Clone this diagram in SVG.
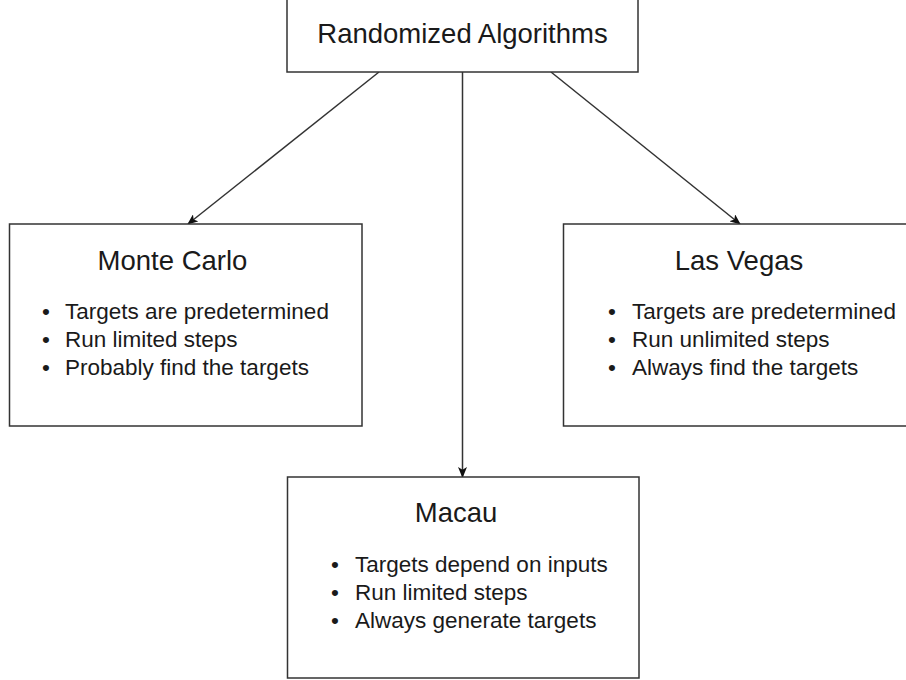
<svg xmlns="http://www.w3.org/2000/svg" width="906" height="680" viewBox="0 0 906 680">
<style>
.box{fill:#fff;stroke:#333;stroke-width:1.5}
.title{font-family:"Liberation Sans",Arial,sans-serif;font-size:27.5px;fill:#1a1a1a}
.item{font-family:"Liberation Sans",Arial,sans-serif;font-size:22.5px;fill:#1a1a1a}
.edge{stroke:#333;stroke-width:1.5;fill:none;marker-end:url(#arr)}
</style>
<defs>
<marker id="arr" viewBox="0 0 12 10" refX="11" refY="5" markerWidth="11" markerHeight="9" orient="auto" markerUnits="userSpaceOnUse">
<path d="M0,0 L12,5 L0,10 L3,5 Z" fill="#111"/>
</marker>
</defs>
<rect width="906" height="680" fill="#fff"/>
<g id="connectors">
<line class="edge" x1="379" y1="72" x2="188" y2="224"/>
<line class="edge" x1="551" y1="72" x2="740" y2="224"/>
<line class="edge" x1="462.5" y1="72" x2="462.5" y2="477"/>
</g>
<g id="randomized">
<rect class="box" x="287" y="-2" width="351" height="74"/>
<text class="title" x="462.5" y="43" text-anchor="middle">Randomized Algorithms</text>
</g>
<g id="montecarlo">
<rect class="box" x="9.5" y="224" width="352.5" height="202"/>
<text class="title" x="172.5" y="270" text-anchor="middle">Monte Carlo</text>
<text class="item" x="42" y="319">•</text><text class="item" x="65" y="319">Targets are predetermined</text>
<text class="item" x="42" y="347">•</text><text class="item" x="65" y="347">Run limited steps</text>
<text class="item" x="42" y="375">•</text><text class="item" x="65" y="375">Probably find the targets</text>
</g>
<g id="lasvegas">
<rect class="box" x="563.5" y="224" width="352" height="202"/>
<text class="title" x="739" y="270" text-anchor="middle">Las Vegas</text>
<text class="item" x="608" y="319">•</text><text class="item" x="632" y="319">Targets are predetermined</text>
<text class="item" x="608" y="347">•</text><text class="item" x="632" y="347">Run unlimited steps</text>
<text class="item" x="608" y="375">•</text><text class="item" x="632" y="375">Always find the targets</text>
</g>
<g id="macau">
<rect class="box" x="287.5" y="477" width="351.5" height="201"/>
<text class="title" x="456" y="522" text-anchor="middle">Macau</text>
<text class="item" x="331" y="572">•</text><text class="item" x="355" y="572">Targets depend on inputs</text>
<text class="item" x="331" y="600">•</text><text class="item" x="355" y="600">Run limited steps</text>
<text class="item" x="331" y="628">•</text><text class="item" x="355" y="628">Always generate targets</text>
</g>
</svg>
